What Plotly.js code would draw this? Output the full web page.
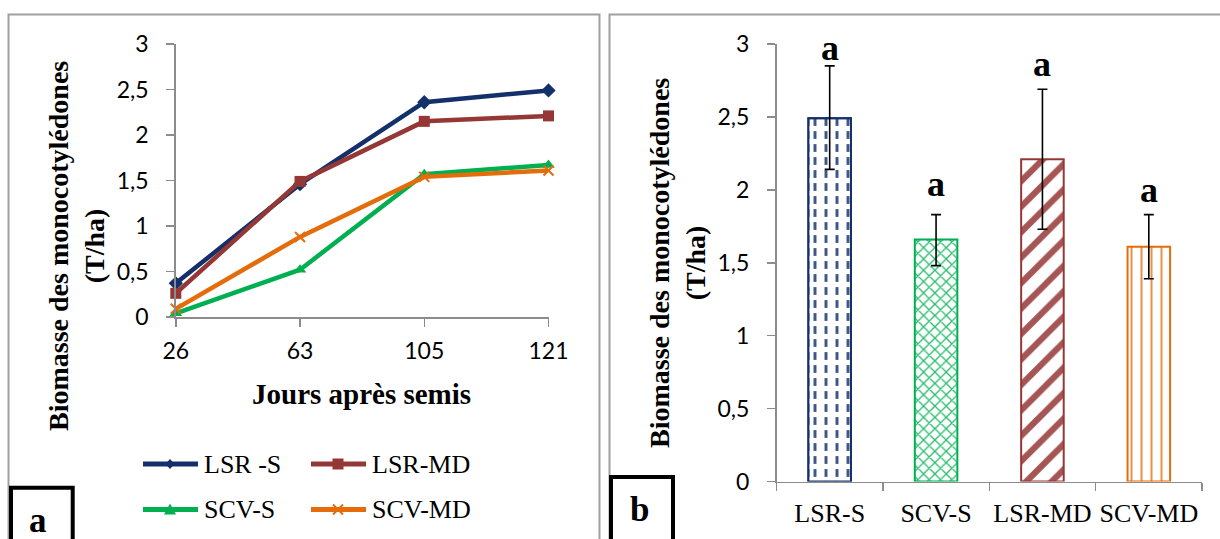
<!DOCTYPE html>
<html>
<head>
<meta charset="utf-8">
<script src="https://cdn.plot.ly/plotly-3.0.1.min.js"></script>
<style>
  html, body { margin: 0; padding: 0; background: #fff; }
  #chart { width: 1220px; height: 539px; }
</style>
</head>
<body>
<div id="chart"></div>
<script>
// ---- Data ----------------------------------------------------------------
// (a) biomass over time, days after sowing
const days = ['26', '63', '105', '121'];
const lineNames = ['LSR -S', 'LSR-MD', 'SCV-S', 'SCV-MD'];
const lsrS  = [0.37, 1.46, 2.36, 2.49];
const lsrMD = [0.26, 1.49, 2.15, 2.21];
const scvS  = [0.04, 0.52, 1.57, 1.67];
const scvMD = [0.09, 0.88, 1.54, 1.61];

// (b) final biomass per treatment with standard error and group letters
const treatments = ['LSR-S', 'SCV-S', 'LSR-MD', 'SCV-MD'];
const biomass    = [2.49, 1.66, 2.21, 1.61];
const errPlus    = [0.36, 0.17, 0.48, 0.22];
const errMinus   = [0.35, 0.18, 0.48, 0.22];
const letters    = ['a', 'a', 'a', 'a'];

const yTitle = 'Biomasse des monocotylédones<br>(T/ha)';
const xTitle = 'Jours après semis';

// ---- Styling -------------------------------------------------------------
const W = 1220, H = 539;
const px = x => x / W;
const py = y => 1 - y / H;

const NAVY = '#14306B', BROWN = '#953735', GREEN = '#00B050', ORANGE = '#E46C0A';
const CLEAR = 'rgba(0,0,0,0)';
const lineColors = [NAVY, BROWN, GREEN, ORANGE];
const barColors = [NAVY, GREEN, BROWN, ORANGE];
const AXIS = '#8C8C8C';
const SERIF = 'Liberation Serif, Times New Roman, serif';
const SANS = 'Lato, Carlito, Calibri, sans-serif';

const lineSeries = [lsrS, lsrMD, scvS, scvMD];
const markerDefs = [
  {symbol: 'diamond', size: 11},
  {symbol: 'square', size: 11},
  {symbol: 'triangle-up', size: 11},
  {symbol: 'x-thin', size: 10}
];

const traces = lineSeries.map((vals, i) => ({
  type: 'scatter', mode: 'lines+markers',
  x: days, y: vals, name: lineNames[i],
  xaxis: 'x', yaxis: 'y', cliponaxis: false,
  line: {color: lineColors[i], width: 4.5},
  marker: Object.assign({color: lineColors[i],
    line: {color: lineColors[i], width: markerDefs[i].symbol === 'x-thin' ? 2 : 0}}, markerDefs[i])
}));

// patterned bars
traces.push({
  type: 'bar', x: treatments, y: biomass, xaxis: 'x2', yaxis: 'y2',
  width: 0.4,
  marker: {
    color: 'white',
    line: {color: barColors, width: 2},
    pattern: {
      shape: ['|', 'x', '/', '|'],
      fgcolor: barColors,
      bgcolor: 'white',
      size: [11, 8, 18, 10],
      solidity: [0.26, 0.3, 0.35, 0.18],
      fgopacity: 0.85
    }
  }
});
// white horizontal breaks turn the first bar's vertical lines into dashes; error bars ride on top
traces.push({
  type: 'bar', x: treatments, y: biomass, xaxis: 'x2', yaxis: 'y2',
  width: 0.4,
  marker: {
    color: CLEAR,
    line: {color: [NAVY, CLEAR, CLEAR, CLEAR], width: 2},
    pattern: {
      shape: ['-', '', '', ''],
      fgcolor: 'white',
      bgcolor: CLEAR,
      size: 13,
      solidity: 0.4,
      fgopacity: 1
    }
  },
  error_y: {type: 'data', array: errPlus, arrayminus: errMinus, symmetric: false,
            color: '#000', thickness: 1.6, width: 5}
});

const shapes = [];
const annotations = [];

// panel frames
shapes.push({type: 'rect', xref: 'paper', yref: 'paper', x0: px(8.5), x1: px(599.5), y0: py(14.5), y1: py(600),
             line: {color: '#A0A0A0', width: 2}, fillcolor: CLEAR});
shapes.push({type: 'rect', xref: 'paper', yref: 'paper', x0: px(609.5), x1: px(1260), y0: py(14.5), y1: py(600),
             line: {color: '#A0A0A0', width: 2}, fillcolor: CLEAR});

// panel letter boxes
[[11, 72.7, 487.7, 'a', 38, 520], [611, 673, 477, 'b', 639, 509]].forEach(([x0, x1, y0, t, tx, ty]) => {
  shapes.push({type: 'rect', xref: 'paper', yref: 'paper', x0: px(x0), x1: px(x1), y0: py(y0), y1: py(600),
               line: {color: '#000', width: 4}, fillcolor: 'white'});
  annotations.push({xref: 'paper', yref: 'paper', x: px(tx), y: py(ty), text: '<b>' + t + '</b>',
                    showarrow: false, xanchor: 'center', yanchor: 'middle',
                    font: {family: SERIF, size: 35, color: '#000'}});
});

// legend of panel (a)
function pathFrom(points) {
  return 'M' + points.map(p => px(p[0]) + ',' + py(p[1])).join('L') + 'Z';
}
const legendCells = [[143, 464], [311, 464], [143, 509.5], [311, 509.5]];
legendCells.forEach(([lx, ly], i) => {
  const c = lineColors[i];
  const mx = lx + 27;
  shapes.push({type: 'line', xref: 'paper', yref: 'paper', x0: px(lx), x1: px(lx + 55), y0: py(ly), y1: py(ly),
               line: {color: c, width: 5}});
  let mark;
  if (i === 0) mark = {type: 'path', path: pathFrom([[mx, ly - 5], [mx + 4.5, ly], [mx, ly + 5], [mx - 4.5, ly]]), fillcolor: c, line: {color: c, width: 0}};
  if (i === 1) mark = {type: 'path', path: pathFrom([[mx - 5.5, ly - 5.5], [mx + 5.5, ly - 5.5], [mx + 5.5, ly + 5.5], [mx - 5.5, ly + 5.5]]), fillcolor: c, line: {color: c, width: 0}};
  if (i === 2) mark = {type: 'path', path: pathFrom([[mx, ly - 6], [mx + 6, ly + 5], [mx - 6, ly + 5]]), fillcolor: c, line: {color: c, width: 0}};
  if (i === 3) mark = {type: 'path', path: 'M' + px(mx - 5) + ',' + py(ly - 5) + 'L' + px(mx + 5) + ',' + py(ly + 5) +
                        'M' + px(mx + 5) + ',' + py(ly - 5) + 'L' + px(mx - 5) + ',' + py(ly + 5), line: {color: c, width: 2}};
  shapes.push(Object.assign({xref: 'paper', yref: 'paper'}, mark));
  annotations.push({xref: 'paper', yref: 'paper', x: px(lx + 58.5), y: py(ly), text: lineNames[i],
                    showarrow: false, xanchor: 'left', yanchor: 'middle',
                    font: {family: SERIF, size: 26, color: '#000'}});
});

// axis titles
annotations.push({xref: 'paper', yref: 'paper', x: px(77), y: py(246), text: '<b>' + yTitle + '</b>',
                  textangle: -90, showarrow: false, xanchor: 'center', yanchor: 'middle',
                  font: {family: SERIF, size: 28, color: '#000'}});
annotations.push({xref: 'paper', yref: 'paper', x: px(677), y: py(263), text: '<b>' + yTitle + '</b>',
                  textangle: -90, showarrow: false, xanchor: 'center', yanchor: 'middle',
                  font: {family: SERIF, size: 28, color: '#000'}});
annotations.push({xref: 'paper', yref: 'paper', x: px(362), y: py(394), text: '<b>' + xTitle + '</b>',
                  showarrow: false, xanchor: 'center', yanchor: 'middle',
                  font: {family: SERIF, size: 29, color: '#000'}});

// significance letters above the error bars
const letterLift = [18, 31, 25, 25];
treatments.forEach((t, i) => {
  annotations.push({xref: 'x2', yref: 'y2', x: t, y: biomass[i] + errPlus[i], yshift: letterLift[i],
                    text: '<b>' + letters[i] + '</b>', showarrow: false, xanchor: 'center', yanchor: 'middle',
                    font: {family: SERIF, size: 36, color: '#000'}});
});

const axisCommon = {
  showline: true, linecolor: AXIS, linewidth: 1.5, ticks: 'outside', ticklen: 8, tickwidth: 1.5,
  tickcolor: AXIS, showgrid: false, zeroline: false, fixedrange: true
};

const layout = {
  width: W, height: H,
  margin: {l: 0, r: 0, t: 0, b: 0},
  paper_bgcolor: 'white', plot_bgcolor: 'white',
  showlegend: false,
  barmode: 'overlay',
  separators: ', ',
  xaxis: Object.assign({}, axisCommon, {
    domain: [px(175.8), px(548.5)], anchor: 'y', type: 'category', range: [0, 3],
    tickangle: 0,
    tickfont: {family: SANS, size: 23, color: '#000'}, ticklabelstandoff: 5
  }),
  yaxis: Object.assign({}, axisCommon, {
    domain: [py(317), py(44)], anchor: 'x', range: [0, 3], tick0: 0, dtick: 0.5,
    tickfont: {family: SANS, size: 23, color: '#000'}, ticklabelstandoff: 13
  }),
  xaxis2: Object.assign({}, axisCommon, {
    domain: [px(776.5), px(1202)], anchor: 'y2', type: 'category', range: [-0.5, 3.5],
    tickson: 'boundaries', tickangle: 0,
    tickfont: {family: SERIF, size: 26, color: '#000'}, ticklabelstandoff: 8
  }),
  yaxis2: Object.assign({}, axisCommon, {
    domain: [py(481.5), py(44)], anchor: 'x2', range: [0, 3], tick0: 0, dtick: 0.5,
    tickfont: {family: SANS, size: 23, color: '#000'}, ticklabelstandoff: 13
  }),
  shapes: shapes,
  annotations: annotations
};

Plotly.newPlot('chart', traces, layout, {staticPlot: true, displayModeBar: false});
</script>
</body>
</html>
